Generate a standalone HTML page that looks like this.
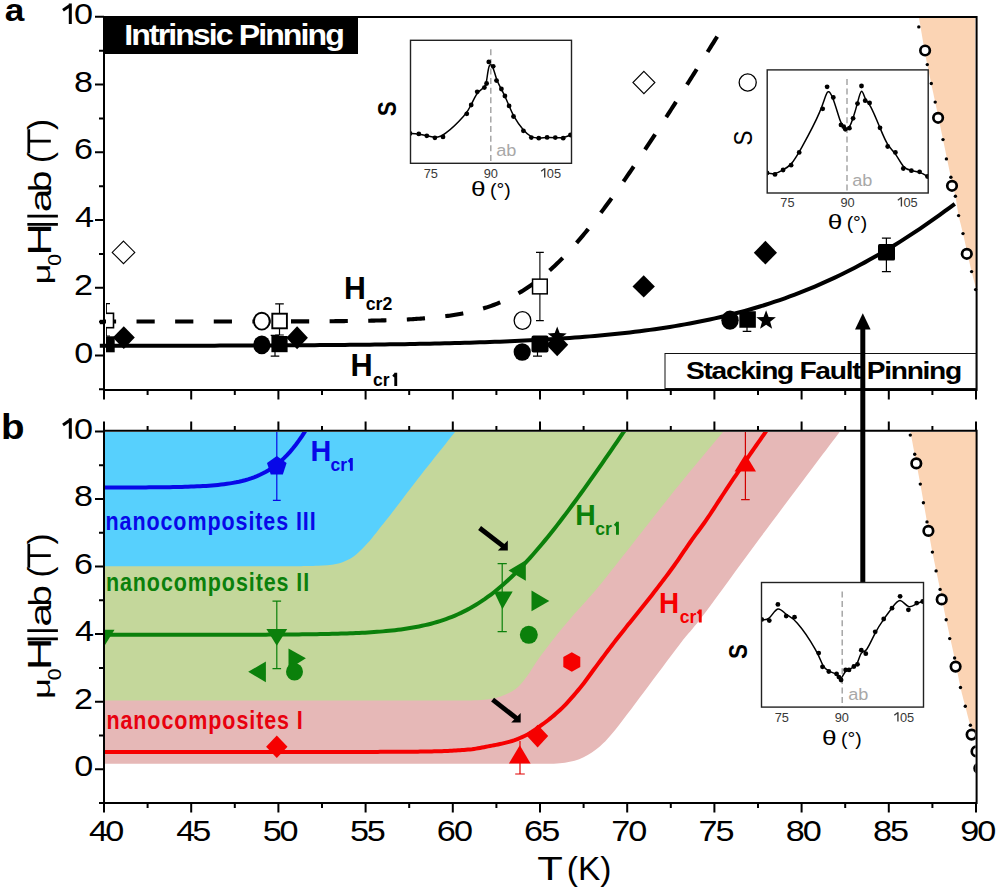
<!DOCTYPE html>
<html><head><meta charset="utf-8"><style>
html,body{margin:0;padding:0;background:#fff;width:1000px;height:892px;overflow:hidden}
svg{display:block}
text{font-family:"Liberation Sans",sans-serif}
</style></head><body>
<svg width="1000" height="892" viewBox="0 0 1000 892">
<rect x="0" y="0" width="1000" height="892" fill="#fff"/>
<path d="M839.6,432 C826.33,449.67 782.43,507.83 760,538 C737.57,568.17 718.33,595.33 705,613 C691.67,630.67 690.17,630.83 680,644 C669.83,657.17 655.2,677.2 644,692 C632.8,706.8 620.8,723.2 612.8,732.8 C604.8,742.4 601.6,745.2 596,749.6 C590.4,754 585.2,756.92 579.2,759.2 C573.2,761.48 566.53,762.53 560,763.3 C553.47,764.07 543.33,763.72 540,763.8 L104,763.8 L104,432 Z" fill="#e6b8b7"/>
<path d="M723,432 C714.33,442.5 690.83,470.33 671,495 C651.17,519.67 620.5,559.7 604,580 C587.5,600.3 580,607.47 572,616.8 C564,626.13 561.33,629.33 556,636 C550.67,642.67 544.8,650.13 540,656.8 C535.2,663.47 531.2,670.67 527.2,676 C523.2,681.33 520.53,685.33 516,688.8 C511.47,692.27 505.33,694.98 500,696.8 C494.67,698.62 490.67,699.07 484,699.7 C477.33,700.33 464,700.45 460,700.6 L104,700.6 L104,432 Z" fill="#c4d79b"/>
<path d="M455,432 C448.67,440 426.83,467.4 417,480 C407.17,492.6 402.5,499.2 396,507.6 C389.5,516 382.8,524.4 378,530.4 C373.2,536.4 370.6,539.8 367.2,543.6 C363.8,547.4 360.8,550.5 357.6,553.2 C354.4,555.9 351.6,558 348,559.8 C344.4,561.6 341,563 336,564 C331,565 324,565.43 318,565.8 C312,566.17 303,566.13 300,566.2 L104,566.2 L104,432 Z" fill="#57d0fd"/>
<path d="M918.8,17 C920.22,24.93 924.57,50.42 927.3,64.6 C930.03,78.78 932.58,89.6 935.2,102.1 C937.82,114.6 940.38,127.08 943,139.6 C945.62,152.12 948.83,167.75 950.9,177.2 C952.97,186.65 954.12,189.9 955.4,196.3 C956.68,202.7 957.33,209.38 958.6,215.6 C959.87,221.82 960.83,224.27 963,233.6 C965.17,242.93 969.43,262.53 971.6,271.6 C973.77,280.67 975.27,285.27 976,288 L975.2,17 Z" fill="#fbd4b4"/>
<path d="M910.5,432 C911.2,435.72 913.07,445.62 914.7,454.3 C916.33,462.98 918.25,472.83 920.3,484.1 C922.35,495.37 924.98,510.57 927,521.9 C929.02,533.23 930.22,540.85 932.4,552.1 C934.58,563.35 937.8,578.12 940.1,589.4 C942.4,600.68 943.78,608.37 946.2,619.8 C948.62,631.23 952.22,646.72 954.6,658 C956.98,669.28 958.72,679.45 960.5,687.5 C962.28,695.55 963.65,700.02 965.3,706.3 C966.95,712.58 968.62,720.42 970.4,725.2 C972.18,729.98 975.07,733.37 976,735 L976,432 Z" fill="#fbd4b4"/>
<circle cx="918.8" cy="26.9" r="1.7"/>
<circle cx="927.3" cy="64.6" r="1.7"/>
<circle cx="931.3" cy="83.5" r="1.7"/>
<circle cx="935.2" cy="102.1" r="1.7"/>
<circle cx="943" cy="139.6" r="1.7"/>
<circle cx="946.4" cy="158.9" r="1.7"/>
<circle cx="950.9" cy="177.2" r="1.7"/>
<circle cx="955.4" cy="196.3" r="1.7"/>
<circle cx="958.6" cy="215.6" r="1.7"/>
<circle cx="963" cy="233.6" r="1.7"/>
<circle cx="971.6" cy="271.6" r="1.7"/>
<circle cx="975.6" cy="289.6" r="1.7"/>
<circle cx="910.3" cy="435.1" r="1.7"/>
<circle cx="914.7" cy="454.3" r="1.7"/>
<circle cx="920.3" cy="484.1" r="1.7"/>
<circle cx="923.4" cy="502.7" r="1.7"/>
<circle cx="927" cy="521.9" r="1.7"/>
<circle cx="932.4" cy="552.1" r="1.7"/>
<circle cx="936.1" cy="570.9" r="1.7"/>
<circle cx="940.1" cy="589.4" r="1.7"/>
<circle cx="946.2" cy="619.8" r="1.7"/>
<circle cx="949.7" cy="638.6" r="1.7"/>
<circle cx="954.6" cy="658" r="1.7"/>
<circle cx="960.5" cy="687.5" r="1.7"/>
<circle cx="965.3" cy="706.3" r="1.7"/>
<circle cx="970.4" cy="725.2" r="1.7"/>
<defs><clipPath id="ca"><rect x="105" y="18" width="870" height="371"/></clipPath><clipPath id="cb"><rect x="105" y="432" width="870" height="370"/></clipPath><clipPath id="cam"><rect x="106" y="18" width="869" height="371"/></clipPath></defs>
<path d="M99.8,345.85 L104.8,345.85 L109.8,345.84 L114.8,345.84 L119.8,345.83 L124.8,345.82 L129.8,345.82 L134.8,345.81 L139.8,345.8 L144.8,345.8 L149.8,345.79 L154.8,345.78 L159.8,345.77 L164.8,345.76 L169.8,345.75 L174.8,345.74 L179.8,345.73 L184.8,345.72 L189.8,345.71 L194.8,345.69 L199.8,345.68 L204.8,345.67 L209.8,345.65 L214.8,345.64 L219.8,345.62 L224.8,345.61 L229.8,345.59 L234.8,345.57 L239.8,345.56 L244.8,345.54 L249.8,345.52 L254.8,345.5 L259.8,345.47 L264.8,345.45 L269.8,345.43 L274.8,345.4 L279.8,345.38 L284.8,345.35 L289.8,345.32 L294.8,345.29 L299.8,345.26 L304.8,345.22 L309.8,345.19 L314.8,345.15 L319.8,345.12 L324.8,345.08 L329.8,345.03 L334.8,344.99 L339.8,344.95 L344.8,344.9 L349.8,344.85 L354.8,344.8 L359.8,344.74 L364.8,344.69 L369.8,344.63 L374.8,344.56 L379.8,344.5 L384.8,344.43 L389.8,344.36 L394.8,344.29 L399.8,344.21 L404.8,344.13 L409.8,344.04 L414.8,343.95 L419.8,343.86 L424.8,343.76 L429.8,343.66 L434.8,343.55 L439.8,343.44 L444.8,343.33 L449.8,343.21 L454.8,343.08 L459.8,342.95 L464.8,342.81 L469.8,342.66 L474.8,342.51 L479.8,342.35 L484.8,342.19 L489.8,342.01 L494.8,341.83 L499.8,341.64 L504.8,341.45 L509.8,341.24 L514.8,341.02 L519.8,340.8 L524.8,340.56 L529.8,340.32 L534.8,340.06 L539.8,339.79 L544.8,339.52 L549.8,339.22 L554.8,338.92 L559.8,338.6 L564.8,338.27 L569.8,337.92 L574.8,337.56 L579.8,337.19 L584.8,336.79 L589.8,336.38 L594.8,335.96 L599.8,335.51 L604.8,335.04 L609.8,334.56 L614.8,334.06 L619.8,333.53 L624.8,332.98 L629.8,332.41 L634.8,331.82 L639.8,331.2 L644.8,330.56 L649.8,329.89 L654.8,329.19 L659.8,328.46 L664.8,327.71 L669.8,326.92 L674.8,326.11 L679.8,325.26 L684.8,324.38 L689.8,323.47 L694.8,322.52 L699.8,321.54 L704.8,320.51 L709.8,319.45 L714.8,318.35 L719.8,317.22 L724.8,316.03 L729.8,314.81 L734.8,313.54 L739.8,312.23 L744.8,310.88 L749.8,309.47 L754.8,308.02 L759.8,306.52 L764.8,304.98 L769.8,303.38 L774.8,301.72 L779.8,300.02 L784.8,298.27 L789.8,296.45 L794.8,294.59 L799.8,292.67 L804.8,290.69 L809.8,288.66 L814.8,286.56 L819.8,284.41 L824.8,282.2 L829.8,279.93 L834.8,277.61 L839.8,275.22 L844.8,272.77 L849.8,270.26 L854.8,267.69 L859.8,265.06 L864.8,262.37 L869.8,259.62 L874.8,256.8 L879.8,253.93 L884.8,250.99 L889.8,248 L894.8,244.94 L899.8,241.83 L904.8,238.66 L909.8,235.42 L914.8,232.13 L919.8,228.79 L924.8,225.38 L929.8,221.92 L934.8,218.41 L939.8,214.84 L944.8,211.21 L949.8,207.54 L954.8,203.81" fill="none" stroke="#000" stroke-width="4"/>
<g clip-path="url(#ca)"><path d="M99.8,321.51 L101.3,321.51 L102.8,321.51 L104.3,321.51 L105.8,321.51 L107.3,321.51 L108.8,321.51 L110.3,321.51 L111.8,321.51 L113.3,321.51 L114.8,321.51 L116.3,321.51 L117.8,321.51 L119.3,321.51 L120.8,321.51 L122.3,321.51 L123.8,321.51 L125.3,321.51 L126.8,321.51 L128.3,321.51 L129.8,321.51 L131.3,321.51 L132.8,321.51 L134.3,321.51 L135.8,321.51 L137.3,321.51 L138.8,321.51 L140.3,321.51 L141.8,321.51 L143.3,321.51 L144.8,321.51 L146.3,321.51 L147.8,321.51 L149.3,321.51 L150.8,321.51 L152.3,321.51 L153.8,321.51 L155.3,321.51 L156.8,321.51 L158.3,321.51 L159.8,321.51 L161.3,321.51 L162.8,321.51 L164.3,321.51 L165.8,321.51 L167.3,321.51 L168.8,321.51 L170.3,321.51 L171.8,321.51 L173.3,321.51 L174.8,321.51 L176.3,321.51 L177.8,321.5 L179.3,321.5 L180.8,321.5 L182.3,321.5 L183.8,321.5 L185.3,321.5 L186.8,321.5 L188.3,321.5 L189.8,321.5 L191.3,321.5 L192.8,321.5 L194.3,321.5 L195.8,321.5 L197.3,321.5 L198.8,321.5 L200.3,321.5 L201.8,321.5 L203.3,321.5 L204.8,321.5 L206.3,321.5 L207.8,321.5 L209.3,321.5 L210.8,321.5 L212.3,321.5 L213.8,321.5 L215.3,321.49 L216.8,321.49 L218.3,321.49 L219.8,321.49 L221.3,321.49 L222.8,321.49 L224.3,321.49 L225.8,321.49 L227.3,321.49 L228.8,321.49 L230.3,321.49 L231.8,321.49 L233.3,321.49 L234.8,321.48 L236.3,321.48 L237.8,321.48 L239.3,321.48 L240.8,321.48 L242.3,321.48 L243.8,321.48 L245.3,321.48 L246.8,321.48 L248.3,321.47 L249.8,321.47 L251.3,321.47 L252.8,321.47 L254.3,321.47 L255.8,321.47 L257.3,321.46 L258.8,321.46 L260.3,321.46 L261.8,321.46 L263.3,321.46 L264.8,321.45 L266.3,321.45 L267.8,321.45 L269.3,321.45 L270.8,321.45 L272.3,321.44 L273.8,321.44 L275.3,321.44 L276.8,321.43 L278.3,321.43 L279.8,321.43 L281.3,321.42 L282.8,321.42 L284.3,321.42 L285.8,321.41 L287.3,321.41 L288.8,321.41 L290.3,321.4 L291.8,321.4 L293.3,321.39 L294.8,321.39 L296.3,321.39 L297.8,321.38 L299.3,321.38 L300.8,321.37 L302.3,321.36 L303.8,321.36 L305.3,321.35 L306.8,321.35 L308.3,321.34 L309.8,321.33 L311.3,321.33 L312.8,321.32 L314.3,321.31 L315.8,321.3 L317.3,321.3 L318.8,321.29 L320.3,321.28 L321.8,321.27 L323.3,321.26 L324.8,321.25 L326.3,321.24 L327.8,321.23 L329.3,321.22 L330.8,321.21 L332.3,321.2 L333.8,321.19 L335.3,321.17 L336.8,321.16 L338.3,321.15 L339.8,321.13 L341.3,321.12 L342.8,321.1 L344.3,321.09 L345.8,321.07 L347.3,321.05 L348.8,321.03 L350.3,321.02 L351.8,321 L353.3,320.98 L354.8,320.96 L356.3,320.94 L357.8,320.91 L359.3,320.89 L360.8,320.87 L362.3,320.84 L363.8,320.82 L365.3,320.79 L366.8,320.76 L368.3,320.73 L369.8,320.7 L371.3,320.67 L372.8,320.64 L374.3,320.6 L375.8,320.57 L377.3,320.53 L378.8,320.5 L380.3,320.46 L381.8,320.42 L383.3,320.37 L384.8,320.33 L386.3,320.28 L387.8,320.24 L389.3,320.19 L390.8,320.14 L392.3,320.08 L393.8,320.03 L395.3,319.97 L396.8,319.91 L398.3,319.85 L399.8,319.79 L401.3,319.72 L402.8,319.66 L404.3,319.58 L405.8,319.51 L407.3,319.43 L408.8,319.36 L410.3,319.27 L411.8,319.19 L413.3,319.1 L414.8,319.01 L416.3,318.91 L417.8,318.81 L419.3,318.71 L420.8,318.61 L422.3,318.49 L423.8,318.38 L425.3,318.26 L426.8,318.14 L428.3,318.01 L429.8,317.88 L431.3,317.74 L432.8,317.6 L434.3,317.45 L435.8,317.3 L437.3,317.14 L438.8,316.98 L440.3,316.81 L441.8,316.64 L443.3,316.45 L444.8,316.27 L446.3,316.07 L447.8,315.87 L449.3,315.66 L450.8,315.44 L452.3,315.22 L453.8,314.99 L455.3,314.75 L456.8,314.5 L458.3,314.24 L459.8,313.97 L461.3,313.7 L462.8,313.41 L464.3,313.12 L465.8,312.81 L467.3,312.5 L468.8,312.17 L470.3,311.84 L471.8,311.49 L473.3,311.13 L474.8,310.76 L476.3,310.38 L477.8,309.98 L479.3,309.58 L480.8,309.15 L482.3,308.72 L483.8,308.27 L485.3,307.81 L486.8,307.33 L488.3,306.84 L489.8,306.34 L491.3,305.81 L492.8,305.28 L494.3,304.72 L495.8,304.15 L497.3,303.56 L498.8,302.96 L500.3,302.34 L501.8,301.7 L503.3,301.04 L504.8,300.37 L506.3,299.67 L507.8,298.96 L509.3,298.22 L510.8,297.47 L512.3,296.7 L513.8,295.91 L515.3,295.09 L516.8,294.26 L518.3,293.4 L519.8,292.53 L521.3,291.63 L522.8,290.71 L524.3,289.77 L525.8,288.81 L527.3,287.82 L528.8,286.82 L530.3,285.79 L531.8,284.73 L533.3,283.66 L534.8,282.56 L536.3,281.44 L537.8,280.29 L539.3,279.13 L540.8,277.94 L542.3,276.72 L543.8,275.49 L545.3,274.23 L546.8,272.94 L548.3,271.64 L549.8,270.31 L551.3,268.96 L552.8,267.58 L554.3,266.19 L555.8,264.77 L557.3,263.33 L558.8,261.86 L560.3,260.38 L561.8,258.87 L563.3,257.34 L564.8,255.79 L566.3,254.22 L567.8,252.62 L569.3,251.01 L570.8,249.38 L572.3,247.72 L573.8,246.05 L575.3,244.35 L576.8,242.64 L578.3,240.91 L579.8,239.16 L581.3,237.39 L582.8,235.6 L584.3,233.79 L585.8,231.97 L587.3,230.13 L588.8,228.27 L590.3,226.4 L591.8,224.51 L593.3,222.61 L594.8,220.69 L596.3,218.75 L597.8,216.8 L599.3,214.84 L600.8,212.86 L602.3,210.87 L603.8,208.86 L605.3,206.84 L606.8,204.81 L608.3,202.76 L609.8,200.71 L611.3,198.64 L612.8,196.56 L614.3,194.47 L615.8,192.37 L617.3,190.26 L618.8,188.13 L620.3,186 L621.8,183.86 L623.3,181.71 L624.8,179.55 L626.3,177.38 L627.8,175.2 L629.3,173.01 L630.8,170.82 L632.3,168.61 L633.8,166.4 L635.3,164.19 L636.8,161.96 L638.3,159.73 L639.8,157.49 L641.3,155.25 L642.8,152.99 L644.3,150.74 L645.8,148.47 L647.3,146.2 L648.8,143.93 L650.3,141.65 L651.8,139.36 L653.3,137.07 L654.8,134.78 L656.3,132.48 L657.8,130.18 L659.3,127.87 L660.8,125.55 L662.3,123.24 L663.8,120.92 L665.3,118.59 L666.8,116.26 L668.3,113.93 L669.8,111.6 L671.3,109.26 L672.8,106.92 L674.3,104.57 L675.8,102.22 L677.3,99.87 L678.8,97.52 L680.3,95.16 L681.8,92.81 L683.3,90.44 L684.8,88.08 L686.3,85.72 L687.8,83.35 L689.3,80.98 L690.8,78.6 L692.3,76.23 L693.8,73.85 L695.3,71.48 L696.8,69.1 L698.3,66.71 L699.8,64.33 L701.3,61.95 L702.8,59.56 L704.3,57.17 L705.8,54.78 L707.3,52.39 L708.8,50 L710.3,47.61 L711.8,45.21 L713.3,42.82 L714.8,40.42 L716.3,38.02 L717.8,35.62" fill="none" stroke="#000" stroke-width="4.1" stroke-dasharray="18.2 20.42" stroke-dashoffset="1.9"/></g>
<path d="M99.8,322 L104,322" stroke="#000" stroke-width="4.4"/>
<g clip-path="url(#cb)">
<path d="M104,487.52 L107,487.51 L110,487.51 L113,487.51 L116,487.5 L119,487.49 L122,487.49 L125,487.48 L128,487.47 L131,487.46 L134,487.45 L137,487.44 L140,487.42 L143,487.41 L146,487.39 L149,487.37 L152,487.35 L155,487.32 L158,487.29 L161,487.26 L164,487.22 L167,487.18 L170,487.14 L173,487.09 L176,487.03 L179,486.97 L182,486.89 L185,486.81 L188,486.72 L191,486.62 L194,486.5 L197,486.37 L200,486.23 L203,486.07 L206,485.89 L209,485.68 L212,485.45 L215,485.2 L218,484.91 L221,484.59 L224,484.23 L227,483.82 L230,483.37 L233,482.87 L236,482.31 L239,481.68 L242,480.98 L245,480.2 L248,479.33 L251,478.36 L254,477.29 L257,476.1 L260,474.78 L263,473.32 L266,471.71 L269,469.94 L272,467.99 L275,465.85 L278,463.51 L281,460.95 L284,458.17 L287,455.14 L290,451.87 L293,448.33 L296,444.53 L299,440.44 L302,436.07 L305,431.42 L308,426.48 L311,421.24 L314,415.72" fill="none" stroke="#0808e8" stroke-width="4"/>
<path d="M104,634.8 L107,634.8 L110,634.8 L113,634.8 L116,634.8 L119,634.8 L122,634.8 L125,634.8 L128,634.8 L131,634.79 L134,634.79 L137,634.79 L140,634.79 L143,634.79 L146,634.79 L149,634.79 L152,634.79 L155,634.79 L158,634.79 L161,634.79 L164,634.79 L167,634.79 L170,634.79 L173,634.78 L176,634.78 L179,634.78 L182,634.78 L185,634.78 L188,634.78 L191,634.78 L194,634.77 L197,634.77 L200,634.77 L203,634.77 L206,634.76 L209,634.76 L212,634.76 L215,634.75 L218,634.75 L221,634.75 L224,634.74 L227,634.74 L230,634.73 L233,634.73 L236,634.72 L239,634.72 L242,634.71 L245,634.7 L248,634.69 L251,634.68 L254,634.68 L257,634.67 L260,634.65 L263,634.64 L266,634.63 L269,634.62 L272,634.6 L275,634.59 L278,634.57 L281,634.55 L284,634.53 L287,634.51 L290,634.48 L293,634.46 L296,634.43 L299,634.4 L302,634.37 L305,634.33 L308,634.3 L311,634.26 L314,634.21 L317,634.17 L320,634.11 L323,634.06 L326,634 L329,633.94 L332,633.87 L335,633.79 L338,633.71 L341,633.62 L344,633.53 L347,633.43 L350,633.32 L353,633.2 L356,633.07 L359,632.94 L362,632.79 L365,632.63 L368,632.46 L371,632.27 L374,632.07 L377,631.86 L380,631.62 L383,631.37 L386,631.11 L389,630.82 L392,630.51 L395,630.17 L398,629.82 L401,629.43 L404,629.02 L407,628.57 L410,628.1 L413,627.59 L416,627.04 L419,626.46 L422,625.83 L425,625.17 L428,624.45 L431,623.69 L434,622.88 L437,622.01 L440,621.09 L443,620.11 L446,619.07 L449,617.96 L452,616.79 L455,615.55 L458,614.24 L461,612.86 L464,611.39 L467,609.86 L470,608.24 L473,606.53 L476,604.75 L479,602.88 L482,600.92 L485,598.88 L488,596.74 L491,594.52 L494,592.21 L497,589.81 L500,587.33 L503,584.75 L506,582.09 L509,579.35 L512,576.52 L515,573.6 L518,570.61 L521,567.54 L524,564.39 L527,561.16 L530,557.86 L533,554.5 L536,551.06 L539,547.56 L542,544 L545,540.38 L548,536.71 L551,532.97 L554,529.19 L557,525.36 L560,521.48 L563,517.56 L566,513.6 L569,509.59 L572,505.55 L575,501.48 L578,497.37 L581,493.23 L584,489.06 L587,484.87 L590,480.65 L593,476.4 L596,472.13 L599,467.85 L602,463.54 L605,459.22 L608,454.87 L611,450.52 L614,446.14 L617,441.76 L620,437.36 L623,432.95 L626,428.53 L629,424.09 L632,419.65" fill="none" stroke="#0b800b" stroke-width="4"/>
<path d="M104,752 L106,752 L108,752 L110,752 L112,752 L114,752 L116,752 L118,752 L120,752 L122,752 L124,752 L126,752 L128,752 L130,752 L132,752 L134,752 L136,752 L138,752 L140,752 L142,752 L144,752 L146,752 L148,752 L150,752 L152,752 L154,752 L156,752 L158,752 L160,752 L162,752 L164,752 L166,752 L168,752 L170,752 L172,752 L174,752 L176,752 L178,752 L180,752 L182,752 L184,752 L186,752 L188,752 L190,752 L192,752 L194,752 L196,752 L198,752 L200,752 L202,752 L204,752 L206,752 L208,752 L210,752 L212,752 L214,752 L216,752 L218,752 L220,752 L222,752 L224,752 L226,752 L228,752 L230,752 L232,752 L234,752 L236,752 L238,752 L240,752 L242,752 L244,752 L246,752 L248,752 L250,752 L252,752 L254,752 L256,752 L258,752 L260,752 L262,752 L264,752 L266,752 L268,752 L270,752 L272,752 L274,752 L276,752 L278,752 L280,752 L282,752 L284,752 L286,752 L288,752 L290,752 L292,752 L294,752 L296,752 L298,752 L300,752 L302,752 L304,752 L306,752 L308,752 L310,752 L312,752 L314,752 L316,751.99 L318,751.99 L320,751.99 L322,751.99 L324,751.99 L326,751.99 L328,751.98 L330,751.98 L332,751.98 L334,751.98 L336,751.97 L338,751.97 L340,751.97 L342,751.96 L344,751.96 L346,751.96 L348,751.95 L350,751.95 L352,751.95 L354,751.94 L356,751.94 L358,751.93 L360,751.93 L362,751.92 L364,751.92 L366,751.91 L368,751.91 L370,751.9 L372,751.9 L374,751.89 L376,751.88 L378,751.88 L380,751.87 L382,751.87 L384,751.86 L386,751.85 L388,751.84 L390,751.84 L392,751.83 L394,751.82 L396,751.82 L398,751.81 L400,751.8 L402,751.79 L404,751.78 L406,751.77 L408,751.75 L410,751.73 L412,751.71 L414,751.69 L416,751.66 L418,751.63 L420,751.6 L422,751.57 L424,751.54 L426,751.5 L428,751.46 L430,751.43 L432,751.38 L434,751.34 L436,751.3 L438,751.25 L440,751.2 L442,751.15 L444,751.08 L446,751.01 L448,750.92 L450,750.83 L452,750.72 L454,750.61 L456,750.49 L458,750.36 L460,750.22 L462,750.07 L464,749.92 L466,749.75 L468,749.58 L470,749.4 L472,749.19 L474,748.93 L476,748.63 L478,748.3 L480,747.94 L482,747.56 L484,747.18 L486,746.79 L488,746.4 L490,746.02 L492,745.64 L494,745.25 L496,744.86 L498,744.45 L500,744.03 L502,743.59 L504,743.13 L506,742.64 L508,742.13 L510,741.58 L512,741 L514,740.36 L516,739.65 L518,738.87 L520,738.03 L522,737.14 L524,736.19 L526,735.2 L528,734.15 L530,732.99 L532,731.74 L534,730.41 L536,729.03 L538,727.61 L540,726.18 L542,724.73 L544,723.26 L546,721.75 L548,720.21 L550,718.63 L552,717.01 L554,715.34 L556,713.61 L558,711.84 L560,710 L562,708.09 L564,706.1 L566,704.03 L568,701.89 L570,699.7 L572,697.44 L574,695.14 L576,692.79 L578,690.41 L580,688 L582,685.52 L584,682.93 L586,680.26 L588,677.54 L590,674.79 L592,672.03 L594,669.29 L596,666.6 L598,663.91 L600,661.22 L602,658.52 L604,655.83 L606,653.15 L608,650.48 L610,647.83 L612,645.22 L614,642.62 L616,640.05 L618,637.49 L620,634.95 L622,632.42 L624,629.9 L626,627.38 L628,624.87 L630,622.39 L632,619.92 L634,617.47 L636,615.02 L638,612.56 L640,610.09 L642,607.6 L644,605.09 L646,602.56 L648,600.03 L650,597.48 L652,594.92 L654,592.35 L656,589.76 L658,587.15 L660,584.54 L662,581.91 L664,579.28 L666,576.63 L668,573.96 L670,571.27 L672,568.54 L674,565.78 L676,562.96 L678,560.08 L680,557.15 L682,554.2 L684,551.24 L686,548.29 L688,545.37 L690,542.5 L692,539.69 L694,536.92 L696,534.18 L698,531.46 L700,528.74 L702,525.99 L704,523.21 L706,520.38 L708,517.47 L710,514.49 L712,511.45 L714,508.36 L716,505.25 L718,502.15 L720,499.05 L722,496 L724,492.98 L726,489.96 L728,486.95 L730,483.95 L732,480.96 L734,477.98 L736,475.01 L738,472.04 L740,469.08 L742,466.12 L744,463.18 L746,460.25 L748,457.32 L750,454.41 L752,451.5 L754,448.62 L756,445.76 L758,442.91 L760,440.06 L762,437.2 L764,434.33 L766,431.41 L768,428.47 L770,425.49 L772,422.5" fill="none" stroke="#f60000" stroke-width="4"/>
</g>
<g clip-path="url(#cam)">
<path d="M106.3,303.7 L106.3,336 M102.6,303.7 L110,303.7 M102.6,336 L110,336" stroke="#000" stroke-width="1.2" fill="none"/>
<rect x="99.1" y="313.3" width="14.4" height="14.4" fill="#fff" stroke="#000" stroke-width="1.6"/>
<rect x="98.7" y="336.3" width="16" height="16" fill="#000"/>
</g>
<g clip-path="url(#ca)">
<path d="M123.8,326.2 L134.8,337.6 L123.8,349 L112.8,337.6 Z" fill="#000"/>
<path d="M123.5,241.1 L134.8,252.4 L123.5,263.7 L112.2,252.4 Z" fill="#fff" stroke="#000" stroke-width="1.1"/>
<path d="M279.5,303.9 L279.5,335 M275.2,303.9 L283.8,303.9 M275.2,335 L283.8,335" stroke="#000" stroke-width="1.2" fill="none"/>
<path d="M275,335.3 L275,356.2 M270.7,335.3 L279.3,335.3 M270.7,356.2 L279.3,356.2" stroke="#000" stroke-width="1.2" fill="none"/>
<ellipse cx="261.8" cy="321.2" rx="7.85" ry="8.45" fill="#fff" stroke="#000" stroke-width="1.9"/>
<rect x="272.3" y="313.7" width="14.6" height="14.6" fill="#fff" stroke="#000" stroke-width="1.9"/>
<ellipse cx="261.8" cy="344.9" rx="8.6" ry="9.4" fill="#000"/>
<rect x="271.4" y="336" width="16.2" height="16.2" fill="#000"/>
<path d="M297.1,326.2 L307.9,337.7 L297.1,349.2 L286.3,337.7 Z" fill="#000"/>
<path d="M539.9,252.4 L539.9,320.6 M536,252.4 L543.8,252.4 M536,320.6 L543.8,320.6" stroke="#000" stroke-width="1.1" fill="none"/>
<ellipse cx="522.5" cy="320.5" rx="8.35" ry="8.85" fill="#fff" stroke="#000" stroke-width="1.3"/>
<rect x="532.55" y="279.15" width="14.7" height="14.7" fill="#fff" stroke="#000" stroke-width="1.5"/>
<path d="M537.5,343 L537.5,356.2 M533,356.2 L542,356.2" stroke="#000" stroke-width="1.2" fill="none"/>
<ellipse cx="522.2" cy="352" rx="8.6" ry="8.8" fill="#000"/>
<rect x="531.5" y="335.5" width="17" height="17" rx="2" fill="#000"/>
<path d="M557.2,333.2 L568.2,344.7 L557.2,356.2 L546.2,344.7 Z" fill="#000"/>
<path d="M557.2,326.5 L559.67,333.1 L566.71,333.41 L561.19,337.8 L563.08,344.59 L557.2,340.7 L551.32,344.59 L553.21,337.8 L547.69,333.41 L554.73,333.1 Z" fill="#000"/>
<path d="M643.7,275.2 L654.9,286.4 L643.7,297.6 L632.5,286.4 Z" fill="#000"/>
<path d="M643.9,71.3 L654.9,82.5 L643.9,93.7 L632.9,82.5 Z" fill="#fff" stroke="#000" stroke-width="1.1"/>
<ellipse cx="747.7" cy="82.5" rx="8.55" ry="8.55" fill="#fff" stroke="#000" stroke-width="1.3"/>
<path d="M765.4,240.8 L777,252.7 L765.4,264.6 L753.8,252.7 Z" fill="#000"/>
<ellipse cx="730" cy="320.2" rx="8.7" ry="9.6" fill="#000"/>
<path d="M747,320 L747,331.4 M742.7,331.4 L751.3,331.4" stroke="#000" stroke-width="1.2" fill="none"/>
<rect x="739.35" y="311.25" width="16.5" height="16.5" fill="#000"/>
<path d="M766.1,310.2 L768.63,317.02 L775.9,317.32 L770.19,321.83 L772.15,328.83 L766.1,324.8 L760.05,328.83 L762.01,321.83 L756.3,317.32 L763.57,317.02 Z" fill="#000"/>
<path d="M886.4,238.2 L886.4,271.6 M881.9,238.2 L890.9,238.2 M881.9,271.6 L890.9,271.6" stroke="#000" stroke-width="1.2" fill="none"/>
<rect x="878" y="244" width="17" height="16.6" rx="1.5" fill="#000"/>
</g>
<circle cx="925.1" cy="50.5" r="4.75" fill="#fff" stroke="#000" stroke-width="2.7"/>
<circle cx="938.1" cy="117.8" r="4.75" fill="#fff" stroke="#000" stroke-width="2.7"/>
<circle cx="952" cy="185.8" r="4.75" fill="#fff" stroke="#000" stroke-width="2.7"/>
<circle cx="966.8" cy="253.8" r="4.75" fill="#fff" stroke="#000" stroke-width="2.7"/>
<g clip-path="url(#cb)">
<path d="M276.8,431.5 L276.8,500.4 M272.9,500.4 L280.7,500.4" stroke="#0808e8" stroke-width="1.2" fill="none"/>
<path d="M276.8,455.9 L286.6,463.02 L282.85,474.53 L270.75,474.53 L267,463.02 Z" fill="#0808e8"/>
<path d="M276.8,601.1 L276.8,668.7 M272.5,601.1 L281.1,601.1 M272.5,668.7 L281.1,668.7" stroke="#0b800b" stroke-width="1.2" fill="none"/>
<path d="M266.4,628.9 L287.2,628.9 L276.8,645.8 Z" fill="#0b800b"/>
<path d="M104,629.7 L114.5,629.7 L104,646.5 Z" fill="#0b800b"/>
<path d="M248.2,671.8 L265.9,661.4 L265.9,682.2 Z" fill="#0b800b"/>
<path d="M288.5,648.4 L288.5,669.2 L305.9,658.3 Z" fill="#0b800b"/>
<ellipse cx="294.5" cy="671.8" rx="8.5" ry="8.8" fill="#0b800b"/>
<path d="M502.2,563.6 L502.2,631.7 M497.6,563.6 L506.8,563.6 M497.6,631.7 L506.8,631.7" stroke="#0b800b" stroke-width="1.2" fill="none"/>
<path d="M493.9,591.4 L512.7,591.4 L502.4,609.2 Z" fill="#0b800b"/>
<path d="M508.5,570.4 L525.8,560.3 L525.8,580.7 Z" fill="#0b800b"/>
<path d="M531.5,590.5 L531.5,611.3 L549.3,600.9 Z" fill="#0b800b"/>
<ellipse cx="528.8" cy="634.8" rx="9" ry="9" fill="#0b800b"/>
<path d="M276.8,735.4 L287.5,746.7 L276.8,758 L266.1,746.7 Z" fill="#f60000"/>
<path d="M571.8,652.2 L580.29,657.1 L580.29,666.9 L571.8,671.8 L563.31,666.9 L563.31,657.1 Z" fill="#f60000"/>
<path d="M537.6,724.8 L548.2,736.1 L537.6,747.4 L527,736.1 Z" fill="#f60000"/>
<path d="M520,741 L520,774 M515.2,774 L524.8,774" stroke="#e00000" stroke-width="1.2" fill="none"/>
<path d="M519.8,745.3 L530.6,763.5 L508.9,763.5 Z" fill="#f60000"/>
<path d="M745.4,431.6 L745.4,499.7 M741.1,499.7 L749.7,499.7" stroke="#d00000" stroke-width="1.2" fill="none"/>
<path d="M745.4,454 L756,471.5 L734.6,471.5 Z" fill="#f60000"/>
</g>
<clipPath id="cr"><rect x="0" y="0" width="975.6" height="892"/></clipPath><g clip-path="url(#cr)">
<circle cx="916.3" cy="463.4" r="4.75" fill="#fff" stroke="#000" stroke-width="2.7"/>
<circle cx="928.4" cy="530.9" r="4.75" fill="#fff" stroke="#000" stroke-width="2.7"/>
<circle cx="941.7" cy="599.4" r="4.75" fill="#fff" stroke="#000" stroke-width="2.7"/>
<circle cx="955.6" cy="666.6" r="4.75" fill="#fff" stroke="#000" stroke-width="2.7"/>
<circle cx="971.6" cy="734.6" r="4.75" fill="#fff" stroke="#000" stroke-width="2.7"/>
<circle cx="976.5" cy="751.4" r="4.75" fill="#fff" stroke="#000" stroke-width="2.7"/>
<circle cx="979.3" cy="768.3" r="4.75" fill="#fff" stroke="#000" stroke-width="2.7"/>
</g>
<path d="M479.6,528 L503.8,546.6" stroke="#000" stroke-width="4.8" stroke-linecap="butt"/>
<path d="M507.8,550.6 L507.8,540.6 L497.8,550.6 Z" fill="#000"/>
<path d="M492.6,699.7 L516.7,718.4" stroke="#000" stroke-width="4.8" stroke-linecap="butt"/>
<path d="M520.7,722.4 L520.7,712.9 L511.2,722.4 Z" fill="#000"/>
<path d="M103,17 L977.6,17 M976.6,16 L976.6,391 M103,390 L977.6,390 M104,16 L104,391 M103,430.8 L977.6,430.8 M976.6,430 L976.6,804 M103,803 L977.6,803 M104,430 L104,804 M99,389.37 L104,389.37 M99,802.97 L104,802.97 M95,355.5 L104,355.5 M95,769.2 L104,769.2 M99,321.63 L104,321.63 M99,735.43 L104,735.43 M95,287.76 L104,287.76 M95,701.66 L104,701.66 M99,253.89 L104,253.89 M99,667.89 L104,667.89 M95,220.02 L104,220.02 M95,634.12 L104,634.12 M99,186.15 L104,186.15 M99,600.35 L104,600.35 M95,152.28 L104,152.28 M95,566.58 L104,566.58 M99,118.41 L104,118.41 M99,532.81 L104,532.81 M95,84.54 L104,84.54 M95,499.04 L104,499.04 M99,50.67 L104,50.67 M99,465.27 L104,465.27 M95,16.8 L104,16.8 M95,431.5 L104,431.5 M104,390 L104,399.5 M104,431 L104,421.5 M104,803 L104,812.5 M147.6,390 L147.6,395 M147.6,431 L147.6,426 M147.6,803 L147.6,808 M191.2,390 L191.2,399.5 M191.2,431 L191.2,421.5 M191.2,803 L191.2,812.5 M234.8,390 L234.8,395 M234.8,431 L234.8,426 M234.8,803 L234.8,808 M278.4,390 L278.4,399.5 M278.4,431 L278.4,421.5 M278.4,803 L278.4,812.5 M322,390 L322,395 M322,431 L322,426 M322,803 L322,808 M365.6,390 L365.6,399.5 M365.6,431 L365.6,421.5 M365.6,803 L365.6,812.5 M409.2,390 L409.2,395 M409.2,431 L409.2,426 M409.2,803 L409.2,808 M452.8,390 L452.8,399.5 M452.8,431 L452.8,421.5 M452.8,803 L452.8,812.5 M496.4,390 L496.4,395 M496.4,431 L496.4,426 M496.4,803 L496.4,808 M540,390 L540,399.5 M540,431 L540,421.5 M540,803 L540,812.5 M583.6,390 L583.6,395 M583.6,431 L583.6,426 M583.6,803 L583.6,808 M627.2,390 L627.2,399.5 M627.2,431 L627.2,421.5 M627.2,803 L627.2,812.5 M670.8,390 L670.8,395 M670.8,431 L670.8,426 M670.8,803 L670.8,808 M714.4,390 L714.4,399.5 M714.4,431 L714.4,421.5 M714.4,803 L714.4,812.5 M758,390 L758,395 M758,431 L758,426 M758,803 L758,808 M801.6,390 L801.6,399.5 M801.6,431 L801.6,421.5 M801.6,803 L801.6,812.5 M845.2,390 L845.2,395 M845.2,431 L845.2,426 M845.2,803 L845.2,808 M888.8,390 L888.8,399.5 M888.8,431 L888.8,421.5 M888.8,803 L888.8,812.5 M932.4,390 L932.4,395 M932.4,431 L932.4,426 M932.4,803 L932.4,808 M976,390 L976,399.5 M976,431 L976,421.5 M976,803 L976,812.5" stroke="#000" stroke-width="2" fill="none"/>
<rect x="104" y="17" width="254" height="37" fill="#000"/>
<text transform="translate(124.21,45.2) scale(1.12,1)" font-family='"Liberation Sans", sans-serif' font-size="28.7" font-weight="bold" fill="#fff" letter-spacing="-1.74">Intrinsic Pinning</text>
<rect x="665" y="353.5" width="311" height="35" fill="#fff" stroke="#111" stroke-width="1"/>
<text transform="translate(685.95,378.8) scale(1.15,1)" font-family='"Liberation Sans", sans-serif' font-size="24.5" font-weight="bold" fill="#000" letter-spacing="-1.13">Stacking Fault Pinning</text>
<path d="M862.8,582.5 L862.8,326" stroke="#000" stroke-width="5"/>
<path d="M862.8,313.2 L870.6,329.5 L855,329.5 Z" fill="#000"/>
<path d="M70.3,3.6 L70.3,24 M70.6,5 L63,10.3" stroke="#000" stroke-width="3" fill="none"/>
<text transform="translate(74.03,24) scale(1.16,1)" font-family='"Liberation Sans", sans-serif' font-size="29.5" fill="#000">0</text>
<path d="M70.3,418.3 L70.3,438.7 M70.6,419.7 L63,425" stroke="#000" stroke-width="3" fill="none"/>
<text transform="translate(74.03,438.7) scale(1.16,1)" font-family='"Liberation Sans", sans-serif' font-size="29.5" fill="#000">0</text>
<text transform="translate(74.06,91.74) scale(1.16,1)" font-family='"Liberation Sans", sans-serif' font-size="29.5" fill="#000">8</text>
<text transform="translate(74.06,506.24) scale(1.16,1)" font-family='"Liberation Sans", sans-serif' font-size="29.5" fill="#000">8</text>
<text transform="translate(73.89,159.48) scale(1.16,1)" font-family='"Liberation Sans", sans-serif' font-size="29.5" fill="#000">6</text>
<text transform="translate(73.89,573.78) scale(1.16,1)" font-family='"Liberation Sans", sans-serif' font-size="29.5" fill="#000">6</text>
<text transform="translate(74.92,227.22) scale(1.16,1)" font-family='"Liberation Sans", sans-serif' font-size="29.5" fill="#000">4</text>
<text transform="translate(74.92,641.32) scale(1.16,1)" font-family='"Liberation Sans", sans-serif' font-size="29.5" fill="#000">4</text>
<text transform="translate(73.89,294.96) scale(1.16,1)" font-family='"Liberation Sans", sans-serif' font-size="29.5" fill="#000">2</text>
<text transform="translate(73.89,708.86) scale(1.16,1)" font-family='"Liberation Sans", sans-serif' font-size="29.5" fill="#000">2</text>
<text transform="translate(74.23,362.7) scale(1.16,1)" font-family='"Liberation Sans", sans-serif' font-size="29.5" fill="#000">0</text>
<text transform="translate(74.23,776.4) scale(1.16,1)" font-family='"Liberation Sans", sans-serif' font-size="29.5" fill="#000">0</text>
<text transform="translate(89.02,841.2) scale(1.16,1)" font-family='"Liberation Sans", sans-serif' font-size="29.5" fill="#000">4</text>
<text transform="translate(105.13,841.2) scale(1.16,1)" font-family='"Liberation Sans", sans-serif' font-size="29.5" fill="#000">0</text>
<text transform="translate(176.22,841.2) scale(1.16,1)" font-family='"Liberation Sans", sans-serif' font-size="29.5" fill="#000">4</text>
<text transform="translate(192.33,841.2) scale(1.16,1)" font-family='"Liberation Sans", sans-serif' font-size="29.5" fill="#000">5</text>
<text transform="translate(262.73,841.2) scale(1.16,1)" font-family='"Liberation Sans", sans-serif' font-size="29.5" fill="#000">5</text>
<text transform="translate(279.53,841.2) scale(1.16,1)" font-family='"Liberation Sans", sans-serif' font-size="29.5" fill="#000">0</text>
<text transform="translate(349.93,841.2) scale(1.16,1)" font-family='"Liberation Sans", sans-serif' font-size="29.5" fill="#000">5</text>
<text transform="translate(366.73,841.2) scale(1.16,1)" font-family='"Liberation Sans", sans-serif' font-size="29.5" fill="#000">5</text>
<text transform="translate(436.79,841.2) scale(1.16,1)" font-family='"Liberation Sans", sans-serif' font-size="29.5" fill="#000">6</text>
<text transform="translate(453.93,841.2) scale(1.16,1)" font-family='"Liberation Sans", sans-serif' font-size="29.5" fill="#000">0</text>
<text transform="translate(523.99,841.2) scale(1.16,1)" font-family='"Liberation Sans", sans-serif' font-size="29.5" fill="#000">6</text>
<text transform="translate(541.13,841.2) scale(1.16,1)" font-family='"Liberation Sans", sans-serif' font-size="29.5" fill="#000">5</text>
<text transform="translate(611.19,841.2) scale(1.16,1)" font-family='"Liberation Sans", sans-serif' font-size="29.5" fill="#000">7</text>
<text transform="translate(628.33,841.2) scale(1.16,1)" font-family='"Liberation Sans", sans-serif' font-size="29.5" fill="#000">0</text>
<text transform="translate(698.39,841.2) scale(1.16,1)" font-family='"Liberation Sans", sans-serif' font-size="29.5" fill="#000">7</text>
<text transform="translate(715.53,841.2) scale(1.16,1)" font-family='"Liberation Sans", sans-serif' font-size="29.5" fill="#000">5</text>
<text transform="translate(785.76,841.2) scale(1.16,1)" font-family='"Liberation Sans", sans-serif' font-size="29.5" fill="#000">8</text>
<text transform="translate(802.73,841.2) scale(1.16,1)" font-family='"Liberation Sans", sans-serif' font-size="29.5" fill="#000">0</text>
<text transform="translate(872.96,841.2) scale(1.16,1)" font-family='"Liberation Sans", sans-serif' font-size="29.5" fill="#000">8</text>
<text transform="translate(889.93,841.2) scale(1.16,1)" font-family='"Liberation Sans", sans-serif' font-size="29.5" fill="#000">5</text>
<text transform="translate(960.16,841.2) scale(1.16,1)" font-family='"Liberation Sans", sans-serif' font-size="29.5" fill="#000">9</text>
<text transform="translate(977.13,841.2) scale(1.16,1)" font-family='"Liberation Sans", sans-serif' font-size="29.5" fill="#000">0</text>
<text transform="translate(537.26,880.4) scale(1.25,1)" font-family='"Liberation Sans", sans-serif' font-size="33.5" fill="#000">T</text>
<text transform="translate(566.79,880.4)" font-family='"Liberation Sans", sans-serif' font-size="33.5" fill="#000">(K)</text>
<text transform="translate(4.64,21) scale(1.1,1)" font-family='"Liberation Sans", sans-serif' font-size="32" font-weight="bold" fill="#000">a</text>
<text transform="translate(1.1,439.2) scale(1.1,1)" font-family='"Liberation Sans", sans-serif' font-size="35" font-weight="bold" fill="#000">b</text>
<text transform="translate(344.03,298.8) scale(0.96,1)" font-family='"Liberation Sans", sans-serif' font-size="31.5" font-weight="bold" fill="#000">H</text>
<text transform="translate(365.69,309.9) scale(0.95,1)" font-family='"Liberation Sans", sans-serif' font-size="18.7" font-weight="bold" fill="#000">cr2</text>
<text transform="translate(350.5,375.5) scale(0.96,1)" font-family='"Liberation Sans", sans-serif' font-size="32" font-weight="bold" fill="#000">H</text>
<text transform="translate(373,386) scale(0.95,1)" font-family='"Liberation Sans", sans-serif' font-size="18.5" font-weight="bold" fill="#000">cr</text>
<path d="M395.75,372.8 L395.75,386 M395.46,374.11 L393.41,376.76" stroke="#000" stroke-width="2.9" fill="none"/>
<text transform="translate(310.43,460.8) scale(0.96,1)" font-family='"Liberation Sans", sans-serif' font-size="30" font-weight="bold" fill="#0808e8">H</text>
<text transform="translate(330.5,470.7) scale(0.95,1)" font-family='"Liberation Sans", sans-serif' font-size="18.5" font-weight="bold" fill="#0808e8">cr</text>
<path d="M351.35,458.1 L351.35,470.7 M351.06,459.41 L348.71,461.88" stroke="#0808e8" stroke-width="2.9" fill="none"/>
<text transform="translate(575.36,525.4) scale(0.96,1)" font-family='"Liberation Sans", sans-serif' font-size="29.5" font-weight="bold" fill="#0b800b">H</text>
<text transform="translate(595.3,534.8) scale(0.95,1)" font-family='"Liberation Sans", sans-serif' font-size="18.5" font-weight="bold" fill="#0b800b">cr</text>
<path d="M617.45,521.8 L617.45,534.8 M617.16,523.1 L614.91,525.7" stroke="#0b800b" stroke-width="2.9" fill="none"/>
<text transform="translate(658.99,613.2) scale(0.96,1)" font-family='"Liberation Sans", sans-serif' font-size="29" font-weight="bold" fill="#f60000">H</text>
<text transform="translate(679.7,622.6) scale(0.95,1)" font-family='"Liberation Sans", sans-serif' font-size="18.5" font-weight="bold" fill="#f60000">cr</text>
<path d="M700.25,609.6 L700.25,622.6 M699.96,610.9 L697.72,613.5" stroke="#f60000" stroke-width="2.9" fill="none"/>
<text transform="translate(105.5,529.6) scale(0.86,1)" font-family='"Liberation Sans", sans-serif' font-size="25" font-weight="bold" fill="#0808e8" letter-spacing="1.07">nanocomposites III</text>
<text transform="translate(105.9,591) scale(0.86,1)" font-family='"Liberation Sans", sans-serif' font-size="25" font-weight="bold" fill="#0b800b" letter-spacing="1.07">nanocomposites II</text>
<text transform="translate(106.4,729.4) scale(0.86,1)" font-family='"Liberation Sans", sans-serif' font-size="25" font-weight="bold" fill="#e8000e" letter-spacing="1.07">nanocomposites I</text>
<g transform="translate(0,0)">
<text transform="translate(50.2,284.56) rotate(-90) scale(1.48,1)" font-family='"Liberation Sans", sans-serif' font-size="24.5">μ</text>
<text transform="translate(60.6,265.85) rotate(-90) scale(1.12,1)" font-family='"Liberation Sans", sans-serif' font-size="19">0</text>
<text transform="translate(50.8,255.81) rotate(-90) scale(1.35,1)" font-family='"Liberation Sans", sans-serif' font-size="33.5">H</text>
<path d="M27.3,224.3 L57.9,224.3 M27.3,216.2 L57.9,216.2" stroke="#000" stroke-width="2.7"/>
<text transform="translate(50.9,212.22) rotate(-90) scale(1.43,1)" font-family='"Liberation Sans", sans-serif' font-size="30">a</text>
<text transform="translate(50.9,192.14) rotate(-90) scale(1.22,1)" font-family='"Liberation Sans", sans-serif' font-size="32">b</text>
<text transform="translate(50.8,163) rotate(-90)" font-family='"Liberation Sans", sans-serif' font-size="33">(</text>
<path d="M28.8,129.2 L28.8,153.2 M28.8,141.2 L50.8,141.2" stroke="#000" stroke-width="2.7" fill="none"/>
<text transform="translate(50.8,130) rotate(-90)" font-family='"Liberation Sans", sans-serif' font-size="33">)</text>
</g>
<g transform="translate(0,414.5)">
<text transform="translate(50.2,284.56) rotate(-90) scale(1.48,1)" font-family='"Liberation Sans", sans-serif' font-size="24.5">μ</text>
<text transform="translate(60.6,265.85) rotate(-90) scale(1.12,1)" font-family='"Liberation Sans", sans-serif' font-size="19">0</text>
<text transform="translate(50.8,255.81) rotate(-90) scale(1.35,1)" font-family='"Liberation Sans", sans-serif' font-size="33.5">H</text>
<path d="M27.3,224.3 L57.9,224.3 M27.3,216.2 L57.9,216.2" stroke="#000" stroke-width="2.7"/>
<text transform="translate(50.9,212.22) rotate(-90) scale(1.43,1)" font-family='"Liberation Sans", sans-serif' font-size="30">a</text>
<text transform="translate(50.9,192.14) rotate(-90) scale(1.22,1)" font-family='"Liberation Sans", sans-serif' font-size="32">b</text>
<text transform="translate(50.8,163) rotate(-90)" font-family='"Liberation Sans", sans-serif' font-size="33">(</text>
<path d="M28.8,129.2 L28.8,153.2 M28.8,141.2 L50.8,141.2" stroke="#000" stroke-width="2.7" fill="none"/>
<text transform="translate(50.8,130) rotate(-90)" font-family='"Liberation Sans", sans-serif' font-size="33">)</text>
</g>
<rect x="410.5" y="40.3" width="161" height="123" fill="#fff"/>
<clipPath id="ci410"><rect x="410.5" y="40.3" width="161" height="123"/></clipPath>
<path d="M490.8,49.3 L490.8,163.3" stroke="#a0a0a0" stroke-width="1.4" stroke-dasharray="6 3.6"/>
<text transform="translate(496.17,156) scale(1.1,1)" font-family='"Liberation Sans", sans-serif' font-size="16.5" fill="#a8a8a8">ab</text>
<g clip-path="url(#ci410)">
<path d="M410,133.5 C410,133.5 410,133.5 411.47,133.57 C412.93,133.63 415.87,133.77 418.67,134.15 C421.47,134.53 424.13,135.17 426.82,135.82 C429.5,136.47 432.2,137.13 434.9,137.32 C437.6,137.5 440.3,137.2 445.62,133.2 C450.93,129.2 458.87,121.5 463.57,116.18 C468.27,110.87 469.73,107.93 471.47,104.27 C473.2,100.6 475.2,96.2 477.4,93.3 C479.6,90.4 482,89 483.57,87.62 C485.13,86.23 485.87,84.87 486.6,80.58 C487.33,76.3 488.07,69.1 489.17,66.23 C490.27,63.37 491.73,64.83 493.02,67.95 C494.3,71.07 495.4,75.83 496.77,79.62 C498.13,83.4 499.77,86.2 501.17,88.77 C502.57,91.33 503.73,93.67 505.02,96.48 C506.3,99.3 507.7,102.6 509.13,106.02 C510.57,109.43 512.03,112.97 514.42,117.12 C516.8,121.27 520.1,126.03 523.07,129.55 C526.03,133.07 528.67,135.33 531.23,136.57 C533.8,137.8 536.3,138 538.93,137.97 C541.57,137.93 544.33,137.67 547.08,137.57 C549.83,137.47 552.57,137.53 555.25,137.67 C557.93,137.8 560.57,138 563.1,137.57 C565.63,137.13 568.07,136.07 569.28,135.53 C570.5,135 570.5,135 570.5,135" fill="none" stroke="#000" stroke-width="1.5"/>
<circle cx="410" cy="133.5" r="2.4"/>
<circle cx="418.8" cy="133.9" r="2.4"/>
<circle cx="426.8" cy="135.8" r="2.4"/>
<circle cx="434.9" cy="137.8" r="2.4"/>
<circle cx="443" cy="136.9" r="2.4"/>
<circle cx="466.8" cy="113.8" r="2.4"/>
<circle cx="471.2" cy="105" r="2.4"/>
<circle cx="477.2" cy="91.8" r="2.4"/>
<circle cx="484.4" cy="87.6" r="2.4"/>
<circle cx="486.6" cy="83.5" r="2.4"/>
<circle cx="488.8" cy="61.9" r="2.4"/>
<circle cx="493.2" cy="66.3" r="2.4"/>
<circle cx="496.5" cy="80.6" r="2.4"/>
<circle cx="501.4" cy="89" r="2.4"/>
<circle cx="504.9" cy="96" r="2.4"/>
<circle cx="509.1" cy="105.9" r="2.4"/>
<circle cx="513.5" cy="116.5" r="2.4"/>
<circle cx="523.4" cy="130.8" r="2.4"/>
<circle cx="531.3" cy="137.6" r="2.4"/>
<circle cx="538.8" cy="138.2" r="2.4"/>
<circle cx="547.1" cy="137.4" r="2.4"/>
<circle cx="555.3" cy="137.6" r="2.4"/>
<circle cx="563.2" cy="138.2" r="2.4"/>
<circle cx="570.5" cy="135" r="2.4"/>
</g>
<rect x="410.5" y="40.3" width="161" height="123" fill="none" stroke="#222" stroke-width="1.4"/>
<text transform="translate(423.63,177.5)" font-family='"Liberation Sans", sans-serif' font-size="12.8" fill="#383838">75</text>
<text transform="translate(483.73,177.5)" font-family='"Liberation Sans", sans-serif' font-size="12.8" fill="#383838">90</text>
<text transform="translate(546.8,177.5)" font-family='"Liberation Sans", sans-serif' font-size="12.8" fill="#383838">05</text>
<path d="M544.72,168.3 L544.72,177.5 M544.42,168.8 L541.12,171.2" stroke="#383838" stroke-width="1.35" fill="none"/>
<text transform="translate(471.09,195.5) scale(1.28,1)" font-family='"Liberation Sans", sans-serif' font-size="20.5" fill="#000">θ</text>
<text transform="translate(489.94,195.8) scale(1.03,1)" font-family='"Liberation Sans", sans-serif' font-size="18.8" fill="#000">(°)</text>
<text transform="translate(395.85,108.9) rotate(-90) scale(0.88,1)" font-family='"Liberation Sans", sans-serif' font-weight="bold" font-size="25.5" text-anchor="middle">S</text>
<rect x="767.2" y="69.9" width="161" height="123.1" fill="#fff"/>
<clipPath id="ci767"><rect x="767.2" y="69.9" width="161" height="123.1"/></clipPath>
<path d="M847,78.9 L847,193" stroke="#a0a0a0" stroke-width="1.4" stroke-dasharray="6 3.6"/>
<text transform="translate(852.27,185.7) scale(1.1,1)" font-family='"Liberation Sans", sans-serif' font-size="16.5" fill="#a8a8a8">ab</text>
<g clip-path="url(#ci767)">
<path d="M767,173 C767,173 767,173 768.33,173.23 C769.67,173.47 772.33,173.93 775.02,173.43 C777.7,172.93 780.4,171.47 783.08,169.93 C785.77,168.4 788.43,166.8 791.12,163.87 C793.8,160.93 796.5,156.67 801.77,147.27 C807.03,137.87 814.87,123.33 819.52,112.4 C824.17,101.47 825.63,94.13 827.4,92.23 C829.17,90.33 831.23,93.87 833.55,100.22 C835.87,106.57 838.43,115.73 840.17,120.62 C841.9,125.5 842.8,126.1 843.53,126.83 C844.27,127.57 844.83,128.43 845.78,128.68 C846.73,128.93 848.07,128.57 849.35,126.73 C850.63,124.9 851.87,121.6 853.22,117.5 C854.57,113.4 856.03,108.5 857.43,103.12 C858.83,97.73 860.17,91.87 861.45,91.38 C862.73,90.9 863.97,95.8 865.32,98.62 C866.67,101.43 868.13,102.17 870.6,106.68 C873.07,111.2 876.53,119.5 879.55,126.77 C882.57,134.03 885.13,140.27 887.7,144.37 C890.27,148.47 892.83,150.43 895.43,154.1 C898.03,157.77 900.67,163.13 903.33,166.18 C906,169.23 908.7,169.97 911.42,170.52 C914.13,171.07 916.87,171.43 919.55,172.4 C922.23,173.37 924.87,174.93 926.18,175.72 C927.5,176.5 927.5,176.5 927.5,176.5" fill="none" stroke="#000" stroke-width="1.5"/>
<circle cx="767" cy="173" r="2.4"/>
<circle cx="775" cy="174.4" r="2.4"/>
<circle cx="783.1" cy="170" r="2.4"/>
<circle cx="791.1" cy="165.2" r="2.4"/>
<circle cx="799.2" cy="152.4" r="2.4"/>
<circle cx="822.7" cy="108.8" r="2.4"/>
<circle cx="827.1" cy="86.8" r="2.4"/>
<circle cx="833.3" cy="97.4" r="2.4"/>
<circle cx="841" cy="124.9" r="2.4"/>
<circle cx="843.7" cy="126.7" r="2.4"/>
<circle cx="845.4" cy="129.3" r="2.4"/>
<circle cx="849.4" cy="128.2" r="2.4"/>
<circle cx="853.1" cy="118.3" r="2.4"/>
<circle cx="857.5" cy="103.6" r="2.4"/>
<circle cx="861.5" cy="86" r="2.4"/>
<circle cx="865.2" cy="100.7" r="2.4"/>
<circle cx="869.6" cy="102.9" r="2.4"/>
<circle cx="880" cy="127.8" r="2.4"/>
<circle cx="887.7" cy="146.5" r="2.4"/>
<circle cx="895.4" cy="152.4" r="2.4"/>
<circle cx="903.3" cy="168.5" r="2.4"/>
<circle cx="911.4" cy="170.7" r="2.4"/>
<circle cx="919.6" cy="171.8" r="2.4"/>
<circle cx="927.5" cy="176.5" r="2.4"/>
</g>
<rect x="767.2" y="69.9" width="161" height="123.1" fill="none" stroke="#222" stroke-width="1.4"/>
<text transform="translate(780.33,206.5)" font-family='"Liberation Sans", sans-serif' font-size="12.8" fill="#383838">75</text>
<text transform="translate(840.43,206.5)" font-family='"Liberation Sans", sans-serif' font-size="12.8" fill="#383838">90</text>
<text transform="translate(903.5,206.5)" font-family='"Liberation Sans", sans-serif' font-size="12.8" fill="#383838">05</text>
<path d="M901.42,197.3 L901.42,206.5 M901.12,197.8 L897.82,200.2" stroke="#383838" stroke-width="1.35" fill="none"/>
<text transform="translate(827.79,229) scale(1.28,1)" font-family='"Liberation Sans", sans-serif' font-size="20.5" fill="#000">θ</text>
<text transform="translate(846.64,229.3) scale(1.03,1)" font-family='"Liberation Sans", sans-serif' font-size="18.8" fill="#000">(°)</text>
<text transform="translate(752.4,137.95) rotate(-90) scale(0.88,1)" font-family='"Liberation Sans", sans-serif' font-size="25.5" text-anchor="middle">S</text>
<rect x="761.5" y="582.5" width="162" height="124.6" fill="#fff"/>
<clipPath id="ci761"><rect x="761.5" y="582.5" width="162" height="124.6"/></clipPath>
<path d="M842.2,591.5 L842.2,707.1" stroke="#a0a0a0" stroke-width="1.4" stroke-dasharray="6 3.6"/>
<text transform="translate(848.27,699.8) scale(1.1,1)" font-family='"Liberation Sans", sans-serif' font-size="16.5" fill="#a8a8a8">ab</text>
<g clip-path="url(#ci761)">
<path d="M761.7,619.4 C761.7,619.4 761.7,619.4 762.97,619.6 C764.23,619.8 766.77,620.2 769.47,617.7 C772.17,615.2 775.03,609.8 777.85,609.05 C780.67,608.3 783.43,612.2 786.2,614.33 C788.97,616.47 791.73,616.83 797.15,623 C802.57,629.17 810.63,641.13 815.3,649.4 C819.97,657.67 821.23,662.23 822.92,665.3 C824.6,668.37 826.7,669.93 829.05,671.12 C831.4,672.3 834,673.1 835.68,674.03 C837.37,674.97 838.13,676.03 838.88,677.05 C839.63,678.07 840.37,679.03 841.48,677.83 C842.6,676.63 844.1,673.27 845.42,671.58 C846.73,669.9 847.87,669.9 849.25,669.33 C850.63,668.77 852.27,667.63 853.68,666.7 C855.1,665.77 856.3,665.03 857.53,662.32 C858.77,659.6 860.03,654.9 861.42,653.13 C862.8,651.37 864.3,652.53 866.62,649.47 C868.93,646.4 872.07,639.1 875.05,633.32 C878.03,627.53 880.87,623.27 883.67,619.33 C886.47,615.4 889.23,611.8 891.97,608.02 C894.7,604.23 897.4,600.27 900.13,600.53 C902.87,600.8 905.63,605.3 908.4,606.43 C911.17,607.57 913.93,605.33 916.32,603.95 C918.7,602.57 920.7,602.03 921.7,601.77 C922.7,601.5 922.7,601.5 922.7,601.5" fill="none" stroke="#000" stroke-width="1.5"/>
<circle cx="761.7" cy="619.4" r="2.4"/>
<circle cx="769.3" cy="620.6" r="2.4"/>
<circle cx="777.9" cy="604.4" r="2.4"/>
<circle cx="786.2" cy="616.1" r="2.4"/>
<circle cx="794.5" cy="617.2" r="2.4"/>
<circle cx="818.7" cy="653.1" r="2.4"/>
<circle cx="822.5" cy="666.8" r="2.4"/>
<circle cx="828.8" cy="671.5" r="2.4"/>
<circle cx="836.6" cy="673.9" r="2.4"/>
<circle cx="838.9" cy="677.1" r="2.4"/>
<circle cx="841.1" cy="680" r="2.4"/>
<circle cx="845.6" cy="669.9" r="2.4"/>
<circle cx="849" cy="669.9" r="2.4"/>
<circle cx="853.9" cy="666.5" r="2.4"/>
<circle cx="857.5" cy="664.3" r="2.4"/>
<circle cx="861.3" cy="650.2" r="2.4"/>
<circle cx="865.8" cy="653.7" r="2.4"/>
<circle cx="875.2" cy="631.8" r="2.4"/>
<circle cx="883.7" cy="619" r="2.4"/>
<circle cx="892" cy="608.2" r="2.4"/>
<circle cx="900.1" cy="596.3" r="2.4"/>
<circle cx="908.4" cy="609.8" r="2.4"/>
<circle cx="916.7" cy="603.1" r="2.4"/>
<circle cx="922.7" cy="601.5" r="2.4"/>
</g>
<rect x="761.5" y="582.5" width="162" height="124.6" fill="none" stroke="#222" stroke-width="1.4"/>
<text transform="translate(774.63,721.5)" font-family='"Liberation Sans", sans-serif' font-size="12.8" fill="#383838">75</text>
<text transform="translate(834.73,721.5)" font-family='"Liberation Sans", sans-serif' font-size="12.8" fill="#383838">90</text>
<text transform="translate(900,721.5)" font-family='"Liberation Sans", sans-serif' font-size="12.8" fill="#383838">05</text>
<path d="M897.92,712.3 L897.92,721.5 M897.62,712.8 L894.32,715.2" stroke="#383838" stroke-width="1.35" fill="none"/>
<text transform="translate(822.09,744.7) scale(1.28,1)" font-family='"Liberation Sans", sans-serif' font-size="20.5" fill="#000">θ</text>
<text transform="translate(840.94,745) scale(1.03,1)" font-family='"Liberation Sans", sans-serif' font-size="18.8" fill="#000">(°)</text>
<text transform="translate(747.05,651.6) rotate(-90) scale(0.88,1)" font-family='"Liberation Sans", sans-serif' font-weight="bold" font-size="25.5" text-anchor="middle">S</text>
</svg>
</body></html>
